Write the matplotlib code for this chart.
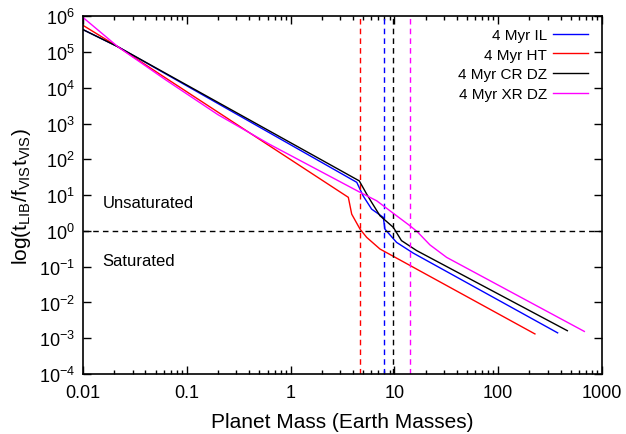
import numpy as np
import matplotlib
matplotlib.use("Agg")
import matplotlib.pyplot as plt
from matplotlib.ticker import LogLocator, FixedLocator, FixedFormatter, NullFormatter

plt.rcParams['font.family'] = ['Liberation Sans', 'DejaVu Sans']
plt.rcParams['mathtext.fontset'] = 'custom'
plt.rcParams['mathtext.rm'] = 'Liberation Sans'
plt.rcParams['mathtext.it'] = 'Liberation Sans:italic'
plt.rcParams['mathtext.bf'] = 'Liberation Sans:bold'
plt.rcParams['mathtext.default'] = 'rm'

# values (planet mass in Earth masses, log10 of ratio)
il_mass = [0.01, 0.0217, 4.34, 5.0, 6.04, 7.82, 8.11, 10.5, 15.2, 374]
il_logt = [5.63, 5.15, 1.36, 0.98, 0.61, 0.38, 0.05, -0.32, -0.62, -2.85]

ht_mass = [0.01, 0.0217, 3.6, 3.88, 4.67, 5.41, 7.26, 226]
ht_logt = [5.75, 5.15, 0.94, 0.47, 0.05, -0.18, -0.505, -2.88]

cr_mass = [0.01, 0.0217, 4.59, 5.41, 6.04, 7.26, 9.77, 11.7, 16.4, 464]
cr_logt = [5.63, 5.15, 1.40, 1.03, 0.80, 0.426, 0.10, -0.27, -0.55, -2.79]

xr_mass = [0.01, 0.0217, 0.063, 0.2, 0.63, 4.67, 6.74, 14.1, 16.6, 22.0, 31.9, 676]
xr_logt = [5.97, 5.15, 4.22, 3.25, 2.42, 1.08, 0.845, 0.146, -0.02, -0.39, -0.74, -2.81]

series = [
    ("4 Myr IL", il_mass, il_logt, "#0000ff"),
    ("4 Myr HT", ht_mass, ht_logt, "#ff0000"),
    ("4 Myr CR DZ", cr_mass, cr_logt, "#000000"),
    ("4 Myr XR DZ", xr_mass, xr_logt, "#ff00ff"),
]
# saturation mass for each model (vertical dashed lines)
sat_mass = [7.9, 4.7, 9.8, 14.1]

fig = plt.figure(figsize=(6.26, 4.35), dpi=100)
ax = fig.add_axes([0.1326, 0.138, 0.829, 0.822])

for (label, m, lt, c), ms in zip(series, sat_mass):
    ax.plot(m, 10.0 ** np.array(lt), color=c, lw=1.0, label=label)
    ax.axvline(ms, color=c, lw=1.0, ls=(0, (4, 3)))

ax.axhline(1.0, color="black", lw=1.0, ls=(0, (4, 3)))

ax.text(0.0155, 10 ** 0.80, "Unsaturated", fontsize=12, va="center", ha="left")
ax.text(0.0155, 10 ** -0.83, "Saturated", fontsize=12, va="center", ha="left")

ax.set_xscale("log")
ax.set_yscale("log")
ax.set_xlim(0.01, 1000)
ax.set_ylim(1e-4, 1e6)

xt = [0.01, 0.1, 1, 10, 100, 1000]
ax.xaxis.set_major_locator(FixedLocator(xt))
ax.xaxis.set_major_formatter(FixedFormatter(["0.01", "0.1", "1", "10", "100", "1000"]))
ax.xaxis.set_minor_locator(LogLocator(base=10, subs=np.arange(2, 10), numticks=20))
ax.xaxis.set_minor_formatter(NullFormatter())
ax.yaxis.set_major_locator(LogLocator(base=10, numticks=20))
ax.yaxis.set_minor_locator(FixedLocator([]))

ax.tick_params(which="both", direction="in", top=True, right=True, labelsize=13)
ax.tick_params(which="major", length=6, width=1)
ax.tick_params(which="minor", length=3, width=1)
ax.tick_params(axis="x", pad=7)
ax.tick_params(axis="y", pad=6)
for s in ax.spines.values():
    s.set_linewidth(1.2)

ax.set_xlabel("Planet Mass (Earth Masses)", fontsize=15, labelpad=8)
ax.set_ylabel("log(t$_{LIB}$/f$_{VIS}$t$_{VIS}$)", fontsize=15, labelpad=4)

ax.legend(loc="upper right", frameon=False, markerfirst=False, fontsize=11,
          handlelength=2.3, handletextpad=0.4, labelspacing=0.38,
          bbox_to_anchor=(0.985, 0.985), borderaxespad=0.0)

fig.savefig("out.png", dpi=100)
